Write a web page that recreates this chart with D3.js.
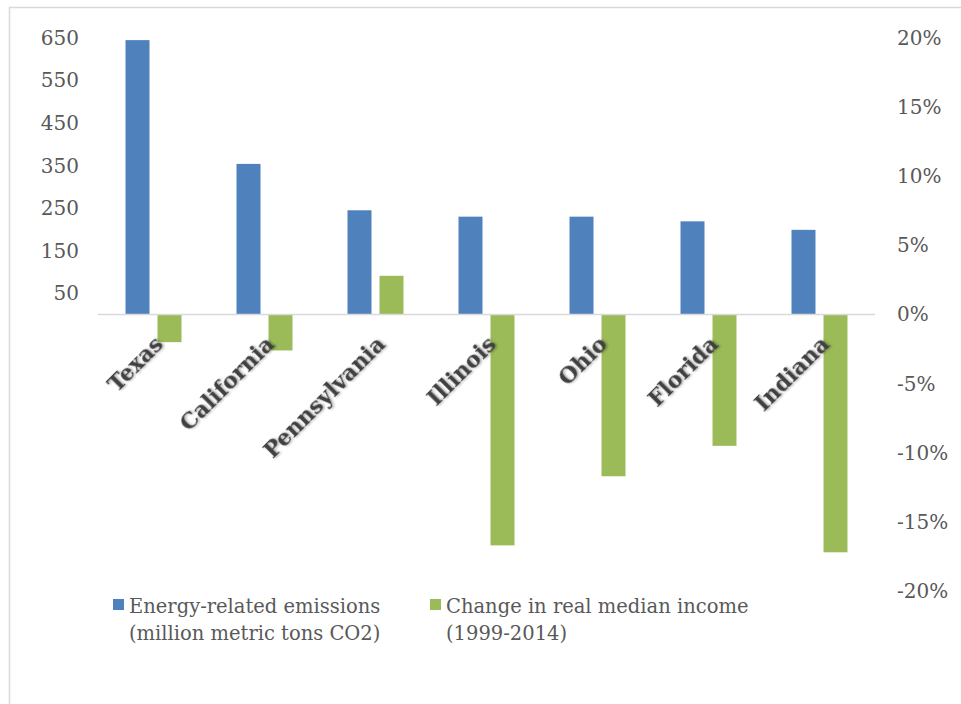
<!DOCTYPE html>
<html>
<head>
<meta charset="utf-8">
<script src="https://cdn.jsdelivr.net/npm/d3@7"></script>
<style>
  body { margin: 0; background: #fff; }
  text { font-family: Georgia, 'DejaVu Serif', serif; }
</style>
</head>
<body>
<div id="chart"></div>
<script>
// Data
const states = ['Texas', 'California', 'Pennsylvania', 'Illinois', 'Ohio', 'Florida', 'Indiana'];
const emissions = [645, 354, 245, 230, 230, 219, 199];              // million metric tons CO2
const incomeChange = [-0.020, -0.026, 0.028, -0.167, -0.117, -0.095, -0.172]; // 1999-2014
const leftTicks = [50, 150, 250, 350, 450, 550, 650];
const rightTicks = [-0.20, -0.15, -0.10, -0.05, 0, 0.05, 0.10, 0.15, 0.20];
const seriesNames = [
    ['Energy-related emissions', '(million metric tons CO2)'],
    ['Change in real median income', '(1999-2014)']
];
const colors = ['#4f81bd', '#9bbb59'];

const width = 961;
const height = 704;

const svg = d3.select('#chart')
    .append('svg')
    .attr('width', width)
    .attr('height', height);

// soft shadow for the category labels
const defs = svg.append('defs');
const shadow = defs.append('filter')
    .attr('id', 'shadow')
    .attr('x', '-20%').attr('y', '-50%')
    .attr('width', '140%').attr('height', '200%');
shadow.append('feDropShadow')
    .attr('dx', 1.2).attr('dy', 1.2)
    .attr('stdDeviation', 1)
    .attr('flood-color', '#000')
    .attr('flood-opacity', 0.35);

// outer frame
svg.append('rect')
    .attr('x', 9.5)
    .attr('y', 7.5)
    .attr('width', 1000)
    .attr('height', 800)
    .attr('fill', 'none')
    .attr('stroke', '#d9d9d9')
    .attr('stroke-width', 1.5);

// Scales
const x = d3.scaleBand()
    .domain(states)
    .range([98, 875])
    .padding(0);

const xs = d3.scaleBand()
    .domain([0, 1])
    .range([27.5, 83.5])
    .paddingInner(0.25);

const yLeft = d3.scaleLinear()
    .domain([-650, 650])
    .range([591, 38]);

const yRight = d3.scaleLinear()
    .domain([-0.2, 0.2])
    .range([591, 38]);

// Left axis
const leftAxis = svg.append('g')
    .attr('transform', 'translate(79,0)')
    .call(d3.axisLeft(yLeft).tickValues(leftTicks).tickSize(0).tickPadding(0));
leftAxis.select('.domain').remove();
leftAxis.selectAll('text')
    .attr('font-family', "Georgia, 'DejaVu Serif', serif")
    .attr('font-size', '20px')
    .attr('fill', '#595959');

// Right axis
const rightAxis = svg.append('g')
    .attr('transform', 'translate(897,0)')
    .call(d3.axisRight(yRight).tickValues(rightTicks).tickSize(0).tickPadding(0)
        .tickFormat(d => Math.round(d * 100) + '%'));
rightAxis.select('.domain').remove();
rightAxis.selectAll('text')
    .attr('font-family', "Georgia, 'DejaVu Serif', serif")
    .attr('font-size', '20px')
    .attr('fill', '#595959');

// Bars
const groups = svg.append('g')
    .selectAll('g')
    .data(states)
    .join('g')
    .attr('transform', d => `translate(${x(d)},0)`);

groups.append('rect')
    .attr('x', xs(0))
    .attr('width', xs.bandwidth())
    .attr('y', (d, i) => yLeft(Math.max(0, emissions[i])))
    .attr('height', (d, i) => Math.abs(yLeft(emissions[i]) - yLeft(0)))
    .attr('fill', colors[0]);

groups.append('rect')
    .attr('x', xs(1))
    .attr('width', xs.bandwidth())
    .attr('y', (d, i) => yRight(Math.max(0, incomeChange[i])))
    .attr('height', (d, i) => Math.abs(yRight(incomeChange[i]) - yRight(0)))
    .attr('fill', colors[1]);

// Zero line
svg.append('line')
    .attr('x1', x.range()[0])
    .attr('x2', x.range()[1])
    .attr('y1', yRight(0))
    .attr('y2', yRight(0))
    .attr('stroke', '#d9d9d9')
    .attr('stroke-width', 1.5);

// Category labels, rotated
svg.append('g')
    .selectAll('text')
    .data(states)
    .join('text')
    .attr('transform', d => `translate(${x(d) + x.bandwidth() / 2 + 11},${yRight(0) + 31}) rotate(-45)`)
    .attr('text-anchor', 'end')
    .attr('font-size', '22px')
    .attr('font-weight', 'bold')
    .attr('fill', '#404040')
    .attr('filter', 'url(#shadow)')
    .text(d => d);

// Legend
const legendX = [113, 430];
const legend = svg.append('g')
    .selectAll('g')
    .data(seriesNames)
    .join('g')
    .attr('transform', (d, i) => `translate(${legendX[i]},599)`);

legend.append('rect')
    .attr('width', 11)
    .attr('height', 11)
    .attr('fill', (d, i) => colors[i]);

legend.append('text')
    .attr('x', 16)
    .attr('y', 14)
    .attr('font-size', '19.5px')
    .attr('fill', '#595959')
    .selectAll('tspan')
    .data(d => d)
    .join('tspan')
    .attr('x', 16)
    .attr('dy', (d, i) => i === 0 ? 0 : 27)
    .text(d => d);
</script>
</body>
</html>
